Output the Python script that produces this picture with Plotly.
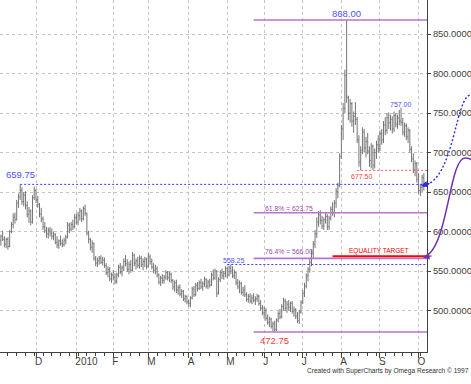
import pandas as pd
import plotly.graph_objects as go

# ---------------- data ----------------
start_date = "2009-11-02"
end_date = "2010-10-06"

opens = [
    592, 589, 594, 590, 584, 590, 581, 600, 609, 618,
    615, 636, 644, 652, 638, 646, 633, 622, 626, 612,
    643, 652, 640, 634, 622, 616, 606, 601, 597, 602,
    598, 594, 596, 586, 583, 588, 585, 583, 589, 593,
    608, 603, 609, 606, 618, 612, 620, 626, 616, 629,
    623, 598, 590, 580, 585, 566, 560, 563, 566, 561,
    564, 557, 548, 552, 540, 545, 542, 537, 545, 555,
    549, 554, 562, 559, 552, 558, 551, 570, 560, 563,
    557, 566, 558, 562, 565, 556, 568, 562, 555, 551,
    553, 545, 536, 541, 538, 542, 548, 542, 546, 538,
    530, 535, 526, 529, 521, 524, 515, 518, 511, 509,
    516, 527, 520, 532, 528, 535, 530, 534, 539, 531,
    536, 532, 545, 541, 550, 522, 539, 548, 544, 547,
    553, 545, 554, 550, 544, 548, 535, 530, 534, 523,
    526, 520, 514, 518, 512, 516, 513, 515, 518, 509,
    503, 497, 500, 490, 485, 489, 480, 483, 476, 488,
    496, 492, 505, 512, 503, 508, 504, 509, 499, 501,
    493, 487, 498, 510, 522, 531, 544, 552, 561, 572,
    584, 597, 612, 621, 614, 607, 615, 619, 606, 617,
    628, 624, 636, 651, 658, 695, 730, 756, 798, 770,
    750, 762, 740, 746, 742, 716, 688, 703, 726, 706,
    714, 702, 690, 708, 684, 700, 710, 705, 724, 716,
    735, 728, 744, 738, 742, 730, 747, 736, 744, 740,
    738, 726, 734, 720, 728, 704, 692, 678, 686, 666,
    652, 656, 668,
]
highs = [
    600, 596, 601, 594, 592, 593, 602, 612, 623, 624,
    640, 648, 659.75, 656, 650, 651, 638, 631, 628, 646,
    657, 654, 645, 636, 630, 619, 612, 606, 605, 606,
    604, 600, 598, 594, 590, 595, 590, 592, 596, 612,
    611, 612, 615, 622, 623, 625, 630, 628, 632, 634,
    624, 601, 592, 589, 586, 569, 567, 569, 570, 568,
    567, 560, 556, 555, 548, 551, 547, 548, 558, 560,
    557, 566, 570, 565, 562, 564, 574, 572, 566, 568,
    570, 569, 566, 568, 567, 573, 571, 566, 560, 558,
    556, 547, 544, 546, 545, 551, 550, 549, 548, 540,
    538, 539, 532, 533, 527, 526, 520, 519, 514, 518,
    530, 531, 535, 536, 538, 540, 537, 543, 541, 539,
    540, 548, 552, 553, 551, 542, 551, 553, 550, 556,
    555, 557, 558.25, 556, 552, 549, 540, 538, 536, 530,
    532, 523, 521, 522, 520, 522, 518, 521, 520, 513,
    507, 505, 503, 495, 492, 491, 486, 487, 490, 499,
    502, 508, 516, 515, 512, 513, 511, 512, 505, 503,
    498, 501, 513, 526, 535, 547, 555, 566, 577, 588,
    602, 618, 626, 627, 620, 618, 624, 622, 620, 632,
    637, 640, 655, 662, 699, 735, 763, 805, 868, 772,
    768, 764, 752, 764, 745, 722, 708, 732, 730, 720,
    725, 708, 712, 710, 705, 715, 722, 728, 730, 740,
    745, 750, 751, 748, 746, 752, 750, 748, 754, 757,
    744, 738, 737, 732, 730, 708, 699, 690, 688, 674,
    660, 672, 674,
]
lows = [
    585, 582, 588, 580, 579, 577, 580, 598, 604, 610,
    614, 630, 640, 634, 632, 628, 618, 611, 608, 610,
    640, 636, 630, 618, 612, 602, 598, 592, 591, 594,
    590, 589, 584, 579, 578, 582, 580, 581, 584, 591,
    598, 600, 602, 604, 609, 608, 614, 612, 614, 620,
    595, 585, 576, 573, 563, 556, 555, 558, 559, 557,
    554, 545, 542, 537, 535, 538, 533, 534, 542, 546,
    543, 550, 556, 549, 546, 548, 550, 556, 552, 554,
    553, 555, 551, 555, 552, 554, 558, 552, 547, 546,
    542, 533, 531, 534, 534, 539, 538, 536, 535, 526,
    524, 522, 520, 518, 516, 512, 510, 508, 505, 504,
    514, 517, 518, 524, 526, 527, 525, 530, 528, 527,
    529, 531, 538, 539, 517, 520, 536, 540, 539, 542,
    541, 543, 546, 541, 540, 532, 527, 522, 520, 518,
    517, 511, 510, 509, 508, 510, 507, 511, 506, 500,
    494, 490, 487, 482, 479, 477, 474, 472.75, 474, 485,
    489, 490, 500, 499, 497, 500, 498, 496, 492, 489,
    484, 483, 496, 508, 517, 528, 537, 548, 556, 566,
    579, 592, 606, 609, 603, 602, 610, 602, 602, 614,
    620, 618, 630, 642, 656, 692, 716, 750, 763, 741,
    738, 733, 725, 735, 712, 682, 677.5, 698, 700, 694,
    698, 682, 680, 678, 680, 692, 700, 702, 710, 712,
    722, 724, 730, 728, 724, 726, 732, 730, 735, 734,
    722, 720, 716, 712, 700, 688, 674, 670, 662, 648,
    645, 650, 652,
]
closes = [
    589, 594, 590, 584, 590, 581, 600, 609, 618, 615,
    636, 644, 652, 638, 646, 633, 622, 626, 612, 643,
    652, 640, 634, 622, 616, 606, 601, 597, 602, 598,
    594, 596, 586, 583, 588, 585, 583, 589, 593, 608,
    603, 609, 606, 618, 612, 620, 626, 616, 629, 623,
    598, 590, 580, 585, 566, 560, 563, 566, 561, 564,
    557, 548, 552, 540, 545, 542, 537, 545, 555, 549,
    554, 562, 559, 552, 558, 551, 570, 560, 563, 557,
    566, 558, 562, 565, 556, 568, 562, 555, 551, 553,
    545, 536, 541, 538, 542, 548, 542, 546, 538, 530,
    535, 526, 529, 521, 524, 515, 518, 511, 509, 516,
    527, 520, 532, 528, 535, 530, 534, 539, 531, 536,
    532, 545, 541, 550, 522, 539, 548, 544, 547, 553,
    545, 554, 550, 544, 548, 535, 530, 534, 523, 526,
    520, 514, 518, 512, 516, 513, 515, 518, 509, 503,
    497, 500, 490, 485, 489, 480, 483, 476, 488, 496,
    492, 505, 512, 503, 508, 504, 509, 499, 501, 493,
    487, 498, 510, 522, 531, 544, 552, 561, 572, 584,
    597, 612, 621, 614, 607, 615, 619, 606, 617, 628,
    624, 636, 651, 658, 695, 730, 756, 798, 770, 750,
    762, 740, 746, 742, 716, 688, 703, 726, 706, 714,
    702, 690, 708, 684, 700, 710, 705, 724, 716, 735,
    728, 744, 738, 742, 730, 747, 736, 744, 740, 738,
    726, 734, 720, 728, 704, 692, 678, 686, 666, 652,
    656, 668, 660,
]

month_tick_dates = ["2009-12-01", "2010-01-01", "2010-02-01", "2010-03-01",
                    "2010-04-01", "2010-05-03", "2010-06-01", "2010-07-01",
                    "2010-08-02", "2010-09-01", "2010-10-01"]
month_tick_labels = ["D", "2010", "F", "M", "A", "M", "J", "J", "A", "S", "O"]
price_ticks = [500, 550, 600, 650, 700, 750, 800, 850]

high_level = 868.00
low_level = 472.75
fib618_level = 623.75
fib764_level = 566.00
equality_level = 568.75
prior_high_level = 659.75
may_high_level = 558.25
swing_low_level = 677.50
swing_high_level = 757.00

dates = pd.bdate_range(start_date, end_date)

# ---------------- figure ----------------
W, H = 471, 384
PL, PR, PT, PB = 0, 44, 0, 32
PW, PH = W - PL - PR, H - PT - PB

def px(x):
    return (x - PL) / PW

def py(y):
    return 1 - (y - PT) / PH

BAR = "#747474"
PURPLE = "#bb72c9"
PURPLE_TXT = "#9a48aa"
BLUE = "#3a3aff"
BLUE_TXT = "#5050ff"
RED = "#ff0000"
RED_TXT = "#ff3c3c"
SANS = "Liberation Sans, Arial, sans-serif"

fig = go.Figure()
fig.add_trace(go.Ohlc(
    x=dates, open=opens, high=highs, low=lows, close=closes,
    increasing=dict(line=dict(color=BAR, width=1)),
    decreasing=dict(line=dict(color=BAR, width=1)),
    tickwidth=0.45, showlegend=False, hoverinfo="skip",
))

x_end = "2010-10-07 19:00"
shapes = []

def hline(x0, y, color, width, dash="solid"):
    shapes.append(dict(type="line", xref="x", yref="y", x0=x0, x1=x_end,
                       y0=y, y1=y, line=dict(color=color, width=width, dash=dash),
                       layer="above"))

hline(dates[145], high_level, PURPLE, 1.6)
hline(dates[145], low_level, PURPLE, 1.6)
hline(dates[145], fib618_level, PURPLE, 1.6)
hline(dates[145], fib764_level, PURPLE, 1.6)
hline(dates[12], prior_high_level, BLUE, 1, "2px,2px")
hline(dates[130], may_high_level, BLUE, 1, "2px,2px")
hline(dates[204], swing_low_level, "#ff5a5a", 1, "2px,2px")
hline(dates[190], equality_level, RED, 2)

def path(points):
    s = "M %.4f,%.4f" % (px(points[0][0]), py(points[0][1]))
    rest = points[1:]
    for i in range(0, len(rest) - 2, 3):
        c1, c2, p = rest[i], rest[i + 1], rest[i + 2]
        s += " C %.4f,%.4f %.4f,%.4f %.4f,%.4f" % (px(c1[0]), py(c1[1]), px(c2[0]), py(c2[1]), px(p[0]), py(p[1]))
    return s

# curved connector lines (drawn outside the plot area, on the right)
shapes.append(dict(type="path", xref="paper", yref="paper",
                   path=path([(423, 186), (455, 180), (455, 95), (471, 95), (478, 95), (482, 94), (486, 93)]),
                   line=dict(color="#2a2ae0", width=1.4, dash="2px,2px")))
shapes.append(dict(type="path", xref="paper", yref="paper",
                   path=path([(424, 257), (448, 250), (449, 158), (465, 158), (470, 158), (473, 160), (477, 163)]),
                   line=dict(color="#7030b0", width=1.5)))

annotations = []

def label(text, x, y, color, size, xanchor="center", yanchor="bottom", yshift=0, xshift=0):
    annotations.append(dict(text=text, x=x, y=y, xref="x", yref="y", showarrow=False,
                            xanchor=xanchor, yanchor=yanchor, yshift=yshift, xshift=xshift,
                            font=dict(family=SANS, size=size, color=color), borderpad=0))

label("868.00", dates[198], high_level, BLUE_TXT, 9.5, yshift=0)
label("659.75", dates[12], prior_high_level, BLUE_TXT, 9.5, yshift=3)
label("472.75", dates[157], low_level, RED_TXT, 9.5, yanchor="top", yshift=-2.5)
label("757.00", dates[229], swing_high_level, BLUE_TXT, 7, yshift=-1)
label("677.50", dates[207], swing_low_level, RED_TXT, 7, yanchor="top", yshift=-2)
label("558.25", dates[134], may_high_level, BLUE_TXT, 7, yshift=-1)
label("61.8% = 623.75", dates[151], fib618_level, PURPLE_TXT, 6.8, xanchor="left", yshift=0)
label("76.4% = 566.00", dates[151], fib764_level, PURPLE_TXT, 6.8, xanchor="left", yshift=2)
label("EQUALITY TARGET", dates[199], equality_level, RED, 6.5, xanchor="left", yshift=0)

# arrowheads at the ends of the connector lines
annotations.append(dict(x=px(421), y=py(186), xref="paper", yref="paper", text="",
                        showarrow=True, ax=10, ay=-3, arrowhead=2, arrowsize=1,
                        arrowwidth=1.3, arrowcolor="#2a2ae0", standoff=0))
annotations.append(dict(x=px(423), y=py(257.5), xref="paper", yref="paper", text="",
                        showarrow=True, ax=10, ay=-2, arrowhead=2, arrowsize=1,
                        arrowwidth=1.3, arrowcolor="#7030b0", standoff=0))

annotations.append(dict(text="Created with SuperCharts by Omega Research \u00a9 1997",
                        x=px(470.5), y=py(371), xref="paper", yref="paper",
                        xanchor="right", yanchor="middle", showarrow=False,
                        font=dict(family=SANS, size=6.6, color="#303030")))

fig.update_layout(
    template="none",
    width=W, height=H,
    margin=dict(l=PL, r=PR, t=PT, b=PB, pad=0, autoexpand=False),
    paper_bgcolor="white", plot_bgcolor="white",
    shapes=shapes, annotations=annotations,
    showlegend=False,
    xaxis=dict(
        type="date",
        automargin=False,
        range=["2009-11-02 11:45", x_end],
        rangebreaks=[dict(bounds=["sat", "mon"])],
        rangeslider=dict(visible=False),
        tickvals=month_tick_dates, ticktext=month_tick_labels,
        ticks="outside", ticklen=5, tickcolor="#404040", tickwidth=1,
        ticklabelposition="outside right", ticklabelshift=-2,
        showline=True, linecolor="#404040", linewidth=1,
        showgrid=True, gridcolor="#c4c4c4", griddash="dot", gridwidth=1,
        zeroline=False,
        tickfont=dict(family=SANS, size=10, color="#404040"),
        minor=dict(ticks="outside", ticklen=3, tickcolor="#404040",
                   dtick=7 * 86400000, tick0="2009-11-02", showgrid=False),
        fixedrange=True,
    ),
    yaxis=dict(
        side="right",
        automargin=False,
        range=[447.4, 893.3],
        tickvals=price_ticks, tickformat=".4f",
        ticks="outside", ticklen=3, tickcolor="#404040",
        showline=True, linecolor="#404040", linewidth=1,
        showgrid=True, gridcolor="#c4c4c4", griddash="dot", gridwidth=1,
        zeroline=False,
        tickfont=dict(family=SANS, size=9.4, color="#404040"),
        fixedrange=True,
    ),
)

fig.write_html("out.html", config={"displayModeBar": False},
               post_script="document.body.style.margin='0px';")
